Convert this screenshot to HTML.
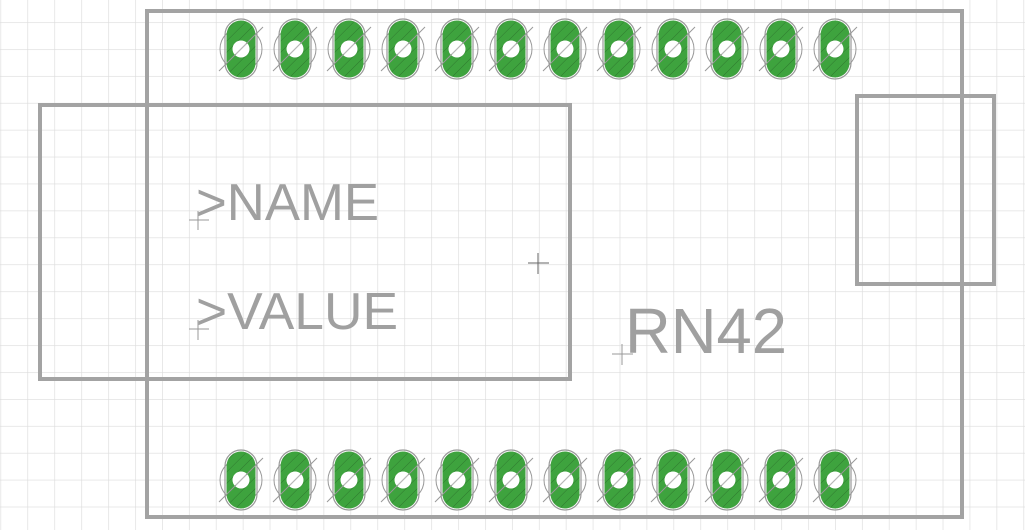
<!DOCTYPE html>
<html><head><style>html,body{margin:0;padding:0;background:#fff}svg{display:block}</style></head>
<body>
<svg width="1025" height="530" viewBox="0 0 1025 530" xmlns="http://www.w3.org/2000/svg">
<defs>
<pattern id="grid" x="0.5" y="-4.8" width="26.92" height="26.92" patternUnits="userSpaceOnUse">
<path d="M0 0V26.92M0 0H26.92" stroke="#dcdcdc" stroke-width="1.3" fill="none"/>
</pattern>
<pattern id="hatch" width="8" height="8" patternUnits="userSpaceOnUse" patternTransform="rotate(45)">
<rect width="8" height="8" fill="#3ea33e"/>
<line x1="0" y1="0" x2="0" y2="8" stroke="#2f7a2f" stroke-width="1"/>
</pattern>
<g id="pad">
<ellipse cx="0" cy="0" rx="21" ry="21" fill="none" stroke="#999" stroke-width="1"/>
<rect x="-16" y="-30" width="32" height="60" rx="16" fill="none" stroke="#999" stroke-width="1.2"/>
<rect x="-14.5" y="-28.5" width="29" height="57" rx="14.5" fill="url(#hatch)"/>
<circle cx="0" cy="0" r="8.5" fill="#fff"/>
<line x1="-22" y1="22" x2="22" y2="-22" stroke="#999" stroke-width="1"/>
<line x1="-5" y1="5" x2="5" y2="-5" stroke="#bbb" stroke-width="1"/>
</g>
</defs>
<rect width="1025" height="530" fill="#fff"/>
<rect width="1025" height="530" fill="url(#grid)"/>
<g fill="none" stroke="#a3a3a3" stroke-width="4">
<rect x="147" y="11" width="815" height="506"/>
<rect x="40" y="105" width="530" height="274"/>
<rect x="857" y="96" width="137" height="188"/>
</g>
<g>
<use href="#pad" x="241" y="49"/><use href="#pad" x="295" y="49"/><use href="#pad" x="349" y="49"/><use href="#pad" x="403" y="49"/><use href="#pad" x="457" y="49"/><use href="#pad" x="511" y="49"/><use href="#pad" x="565" y="49"/><use href="#pad" x="619" y="49"/><use href="#pad" x="673" y="49"/><use href="#pad" x="727" y="49"/><use href="#pad" x="781" y="49"/><use href="#pad" x="835" y="49"/>
<use href="#pad" x="241" y="480"/><use href="#pad" x="295" y="480"/><use href="#pad" x="349" y="480"/><use href="#pad" x="403" y="480"/><use href="#pad" x="457" y="480"/><use href="#pad" x="511" y="480"/><use href="#pad" x="565" y="480"/><use href="#pad" x="619" y="480"/><use href="#pad" x="673" y="480"/><use href="#pad" x="727" y="480"/><use href="#pad" x="781" y="480"/><use href="#pad" x="835" y="480"/>
</g>
<g font-family="Liberation Sans, sans-serif" fill="#a0a0a0">
<text x="196" y="220" font-size="52" textLength="183" lengthAdjust="spacingAndGlyphs">&gt;NAME</text>
<text x="196" y="329" font-size="52" textLength="202" lengthAdjust="spacingAndGlyphs">&gt;VALUE</text>
<text x="625" y="353" font-size="64" textLength="162" lengthAdjust="spacingAndGlyphs">RN42</text>
</g>
<g stroke="#999" stroke-width="1">
<path d="M189 220H209M198 211V230"/>
<path d="M189 329H209M198 320V340"/>
<path d="M612 354H633M622 344V365"/>
<path d="M528 263H549M538 253V274" stroke="#666"/>
</g>
</svg>
</body></html>
